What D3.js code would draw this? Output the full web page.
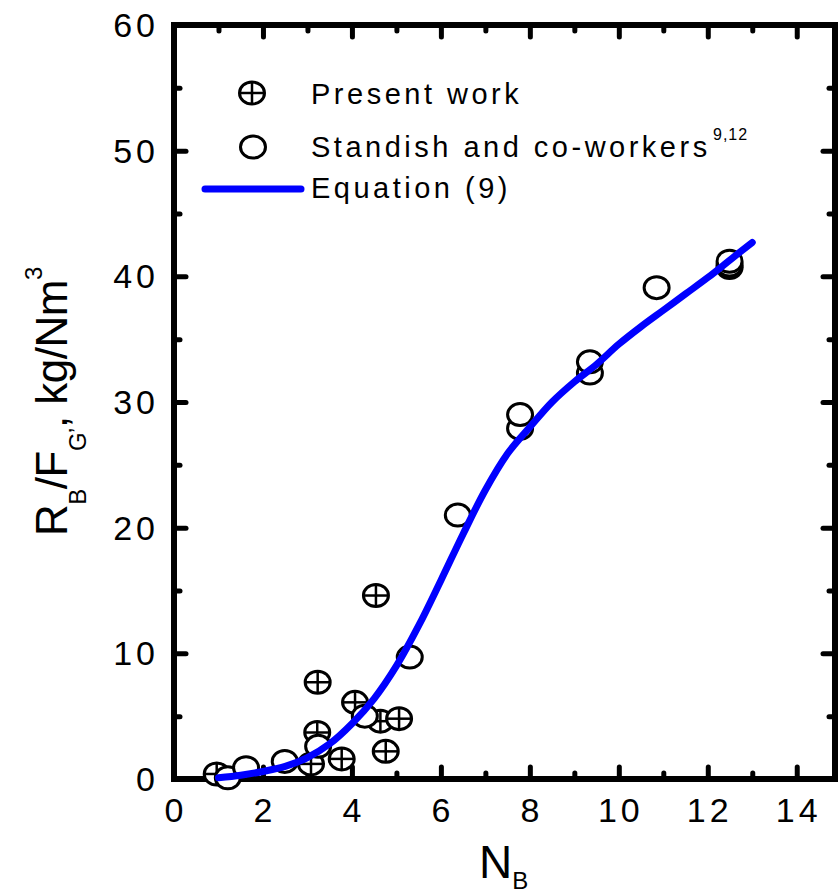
<!DOCTYPE html>
<html>
<head>
<meta charset="utf-8">
<script src="https://cdn.jsdelivr.net/npm/d3@7/dist/d3.min.js"></script>
<style>
body { margin: 0; background: #fff; }
text { font-family: "Liberation Sans", Arial, sans-serif; fill: #000; }
</style>
</head>
<body>
<div id="chart"></div>
<script>
var chart_width = 839;
var chart_height = 894;

// Data
var present_x = [0.96, 3.08, 3.22, 3.23, 3.77, 4.07, 4.54, 4.64, 4.76, 5.06];
var present_y = [0.4, 1.2, 3.7, 7.7, 1.6, 6.1, 14.6, 4.6, 2.2, 4.8];

var standish_x = [1.21, 1.62, 2.49, 3.24, 4.29, 5.30, 6.38, 7.78, 7.78, 9.35, 9.35, 10.85, 12.49, 12.49, 12.49];
var standish_y = [0.1, 0.9, 1.4, 2.6, 5.0, 9.7, 21.0, 27.9, 29.0, 32.3, 33.2, 39.1, 40.7, 40.9, 41.2];

var eq_x = [1.0, 1.5, 2.0, 2.5, 3.0, 3.5, 4.0, 4.5, 5.0, 5.5, 6.0, 6.5, 7.0, 7.5, 8.0, 8.5, 9.0, 9.5, 10.0, 10.5, 11.0, 11.5, 12.0, 12.5, 13.0];
var eq_y = [0.1, 0.3, 0.6, 1.0, 1.7, 2.8, 4.4, 6.4, 9.0, 12.2, 15.8, 19.5, 23.0, 25.9, 28.0, 30.0, 31.6, 33.0, 34.6, 36.0, 37.3, 38.6, 39.9, 41.3, 42.7];

var x_major = [0, 2, 4, 6, 8, 10, 12, 14];
var x_minor = [1, 3, 5, 7, 9, 11, 13];
var y_major = [0, 10, 20, 30, 40, 50, 60];
var y_minor = [5, 15, 25, 35, 45, 55];

var legend_labels = ["Present work", "Standish and co-workers", "Equation (9)"];

// Scales
var x = d3.scaleLinear().domain([0, 14.86]).range([174, 835]);
var y = d3.scaleLinear().domain([0, 60]).range([779, 25]);

var svg = d3.select('#chart')
			.append('svg')
			.attr('width', chart_width)
			.attr('height', chart_height);

// inward ticks on all four sides
function drawTicks(axisFn, values, len, transform){
	var g = svg.append('g')
		.attr('transform', transform)
		.call(axisFn.tickValues(values).tickSize(len).tickFormat(''));
	g.select('.domain').remove();
	g.selectAll('.tick line')
		.attr('stroke', '#000')
		.attr('stroke-width', 5)
		.attr('stroke-linecap', 'round');
	return g;
}
drawTicks(d3.axisBottom(x), x_major, -12, 'translate(0,779)');
drawTicks(d3.axisBottom(x), x_minor, -6, 'translate(0,779)');
drawTicks(d3.axisTop(x), x_major, -12, 'translate(0,25)');
drawTicks(d3.axisTop(x), x_minor, -6, 'translate(0,25)');
drawTicks(d3.axisLeft(y), y_major, -12, 'translate(174,0)');
drawTicks(d3.axisLeft(y), y_minor, -6, 'translate(174,0)');
drawTicks(d3.axisRight(y), y_major, -12, 'translate(835,0)');
drawTicks(d3.axisRight(y), y_minor, -6, 'translate(835,0)');

// frame
svg.append('rect')
	.attr('x', 174).attr('y', 25)
	.attr('width', 835 - 174).attr('height', 779 - 25)
	.attr('fill', 'none')
	.attr('stroke', '#000')
	.attr('stroke-width', 6);

// tick labels
svg.append('g').selectAll('text')
	.data(x_major)
	.enter()
	.append('text')
	.attr('x', function(d){ return x(d) + 2; })
	.attr('y', 822)
	.attr('text-anchor', 'middle')
	.style('font-size', '34px')
	.style('letter-spacing', '4px')
	.text(function(d){ return d; });

svg.append('g').selectAll('text')
	.data(y_major)
	.enter()
	.append('text')
	.attr('x', 159)
	.attr('y', function(d){ return y(d) + 12; })
	.attr('text-anchor', 'end')
	.style('font-size', '34px')
	.style('letter-spacing', '4px')
	.text(function(d){ return d; });

// axis titles
var xt = svg.append('text')
	.attr('x', 479)
	.attr('y', 878)
	.style('font-size', '46px');
xt.append('tspan').text('N');
xt.append('tspan').attr('dy', 11).style('font-size', '24px').text('B');

var yt = svg.append('text')
	.attr('transform', 'translate(67,536) rotate(-90)')
	.style('font-size', '44px')
	.style('letter-spacing', '-0.5px');
yt.append('tspan').text('R');
yt.append('tspan').attr('dy', 19).style('font-size', '24px').text('B');
yt.append('tspan').attr('dy', -19).text('/F');
yt.append('tspan').attr('dy', 19).style('font-size', '24px').text('G\u2019');
yt.append('tspan').attr('dy', -19).text(', kg/Nm');
yt.append('tspan').attr('dy', -25).style('font-size', '24px').text('3');

// markers
function crossCircle(g, cx, cy){
	g.append('ellipse')
		.attr('cx', cx).attr('cy', cy)
		.attr('rx', 12.5).attr('ry', 11)
		.attr('fill', '#fff')
		.attr('stroke', '#000')
		.attr('stroke-width', 3);
	g.append('line')
		.attr('x1', cx - 12.5).attr('x2', cx + 12.5)
		.attr('y1', cy).attr('y2', cy)
		.attr('stroke', '#000').attr('stroke-width', 2.5);
	g.append('line')
		.attr('x1', cx).attr('x2', cx)
		.attr('y1', cy - 11).attr('y2', cy + 11)
		.attr('stroke', '#000').attr('stroke-width', 2.5);
}
function openCircle(g, cx, cy){
	g.append('ellipse')
		.attr('cx', cx).attr('cy', cy)
		.attr('rx', 12.5).attr('ry', 11)
		.attr('fill', '#fff')
		.attr('stroke', '#000')
		.attr('stroke-width', 3);
}

var present = d3.zip(present_x, present_y);
var standish = d3.zip(standish_x, standish_y);

var pg = svg.append('g');
present.forEach(function(d){ crossCircle(pg, x(d[0]), y(d[1])); });
var sg = svg.append('g');
standish.forEach(function(d){ openCircle(sg, x(d[0]), y(d[1])); });

// Equation (9) curve
var line = d3.line()
	.x(function(d){ return x(d[0]); })
	.y(function(d){ return y(d[1]); })
	.curve(d3.curveCatmullRom);
svg.append('path')
	.datum(d3.zip(eq_x, eq_y))
	.attr('d', line)
	.attr('fill', 'none')
	.attr('stroke', '#0000ff')
	.attr('stroke-width', 7)
	.attr('stroke-linecap', 'round')
	.attr('stroke-linejoin', 'round');

// legend
var lg = svg.append('g');
crossCircle(lg, 252, 93);
openCircle(lg, 253, 147);
lg.append('line')
	.attr('x1', 205).attr('x2', 301)
	.attr('y1', 189).attr('y2', 189)
	.attr('stroke', '#0000ff')
	.attr('stroke-width', 7)
	.attr('stroke-linecap', 'round');

var legend_y = [104, 157, 198];
lg.selectAll('text.lab')
	.data(legend_labels)
	.enter()
	.append('text')
	.attr('class', 'lab')
	.attr('x', 311)
	.attr('y', function(d, i){ return legend_y[i]; })
	.style('font-size', '29px')
	.style('letter-spacing', '3.5px')
	.text(function(d){ return d; });
lg.append('text')
	.attr('x', 713)
	.attr('y', 140)
	.style('font-size', '16px')
	.style('letter-spacing', '1px')
	.text('9,12');
</script>
</body>
</html>
